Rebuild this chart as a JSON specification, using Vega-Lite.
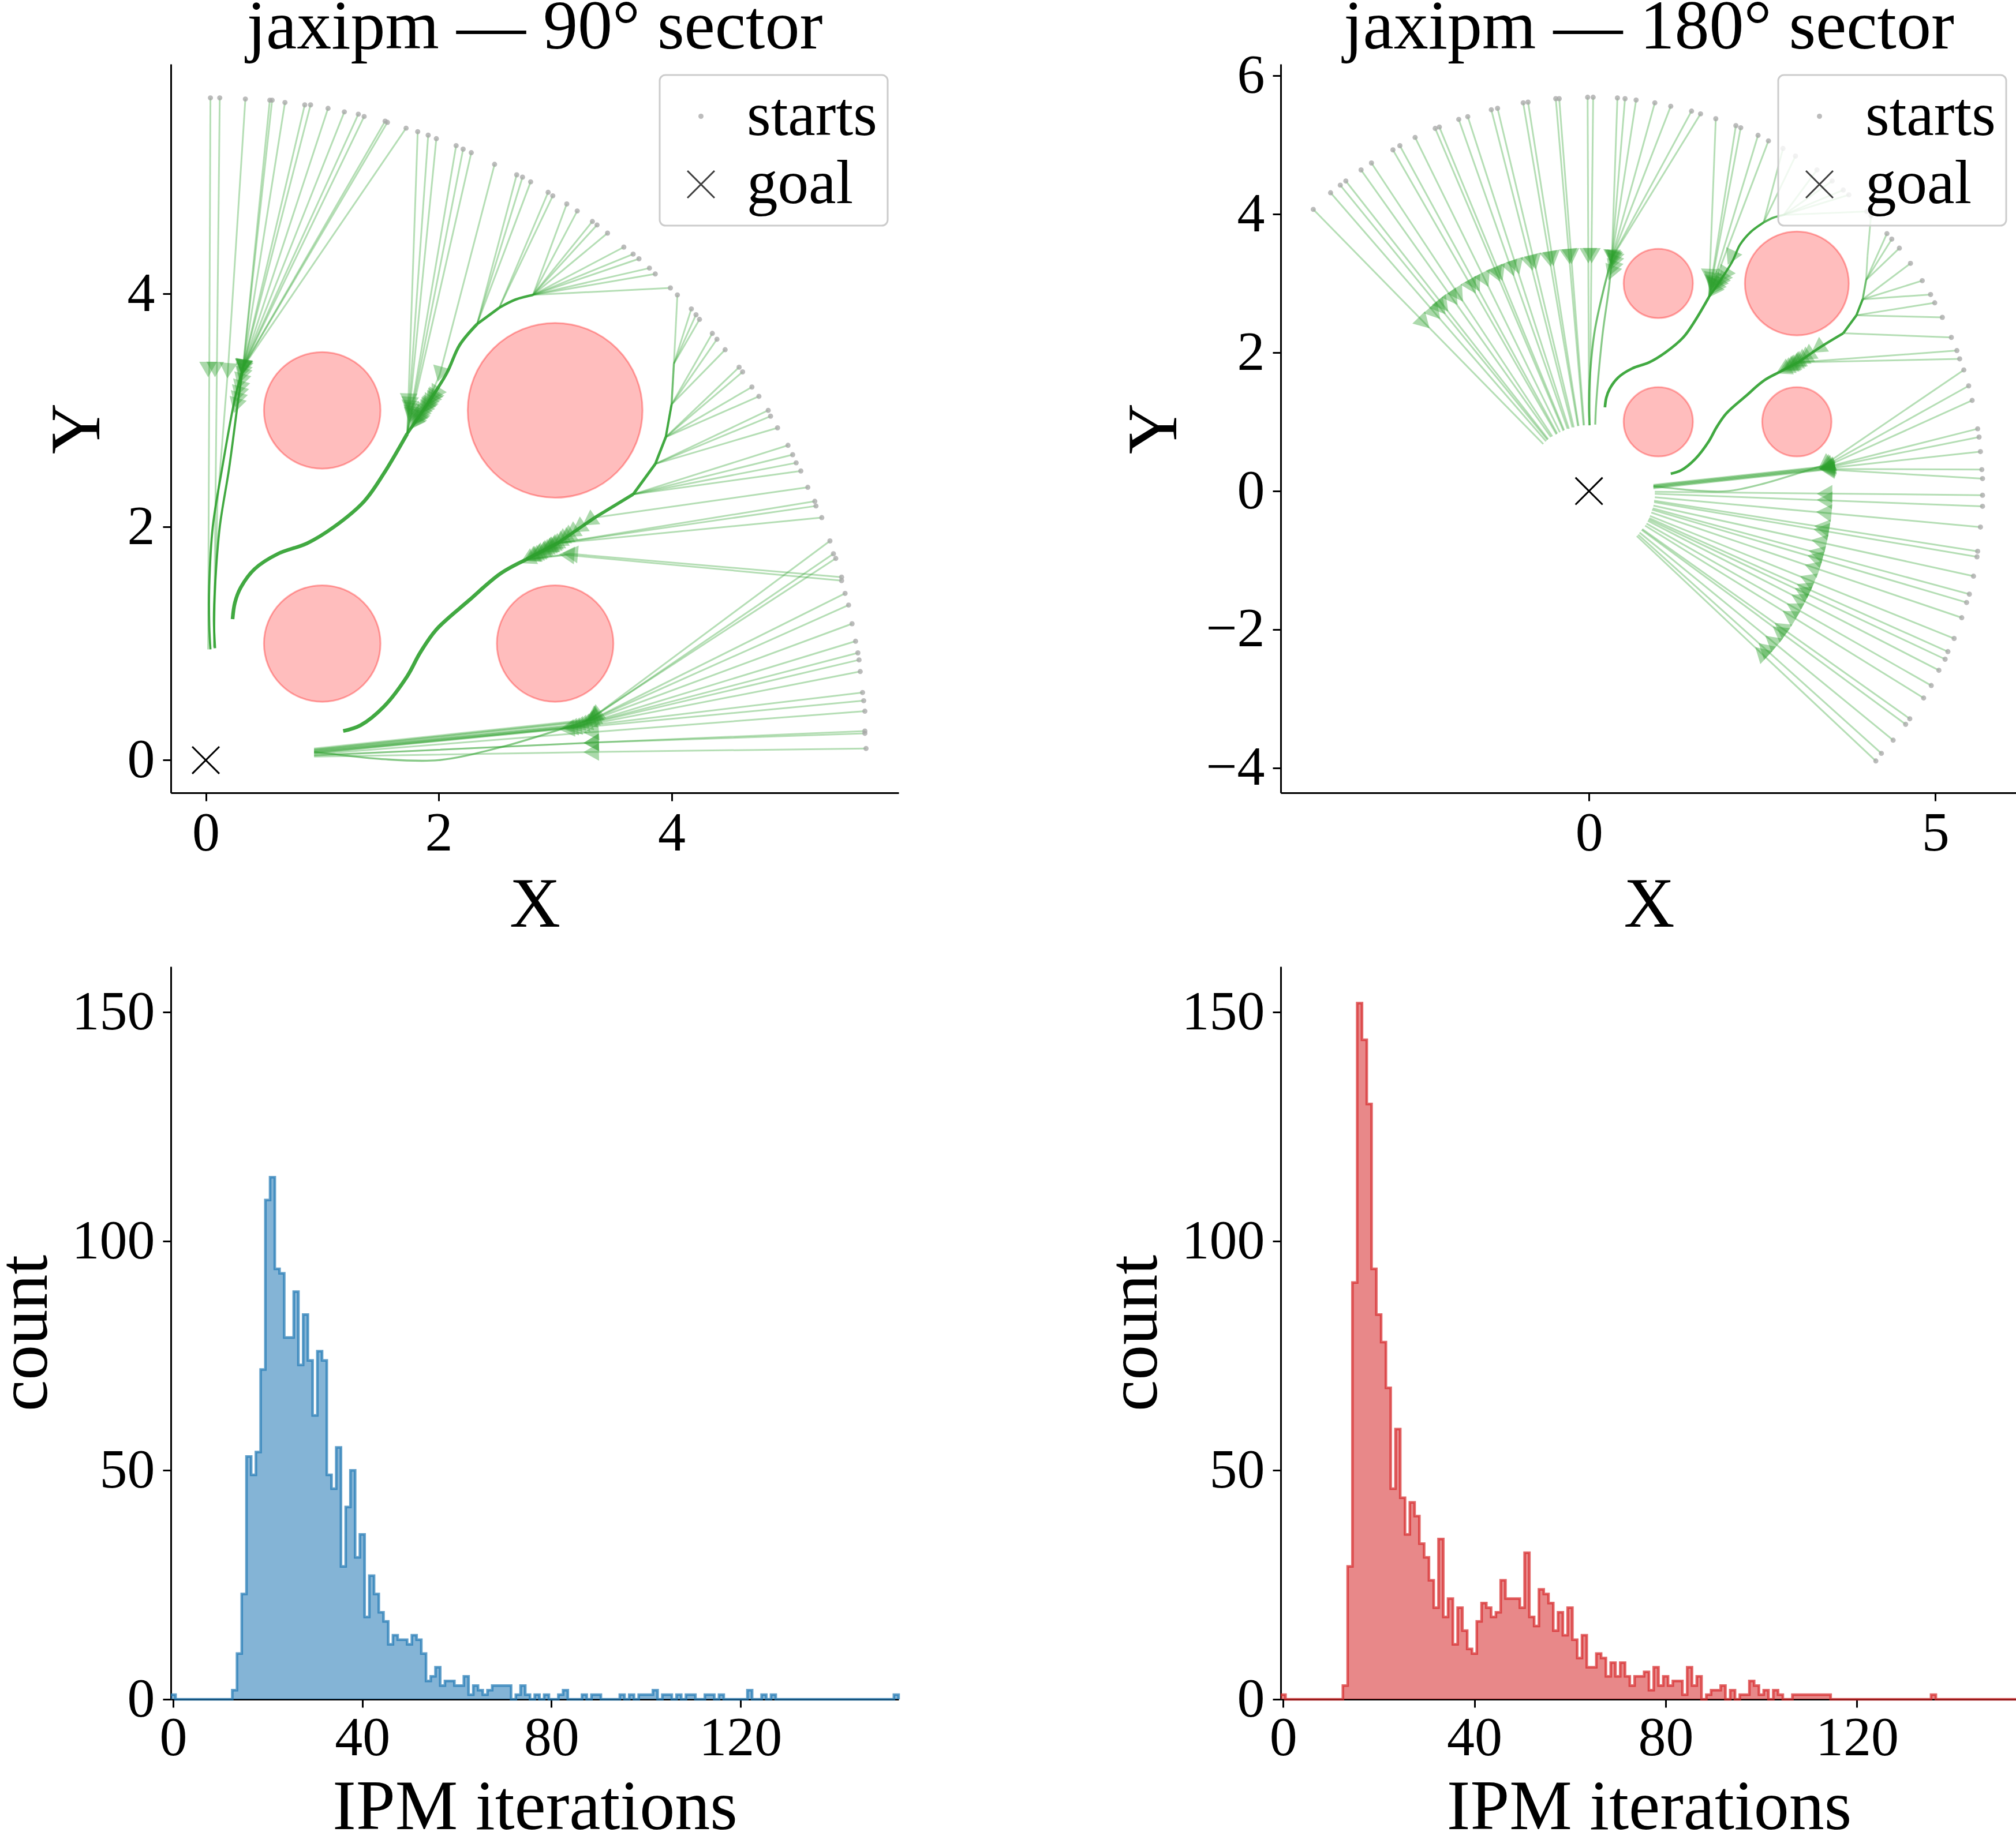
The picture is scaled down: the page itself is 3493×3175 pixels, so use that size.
{
  "$schema": "https://vega.github.io/schema/vega-lite/v6.json",
  "background": "white",
  "autosize": {"type": "pad"},
  "padding": {"left": -18, "top": -12, "right": 0, "bottom": 0},
  "config": {
    "font": "Liberation Serif",
    "view": {"stroke": null},
    "axis": {
      "grid": false, "domainColor": "#000000", "domainWidth": 3, "tickColor": "#000000", "tickWidth": 3, "tickSize": 14,
      "labelFont": "Liberation Serif", "labelFontSize": 96, "labelColor": "#000000", "labelFlush": false,
      "titleFont": "Liberation Serif", "titleFontSize": 122, "titleFontWeight": "normal", "titleColor": "#000000"
    },
    "title": {"font": "Liberation Serif", "fontSize": 120, "fontWeight": "normal", "color": "#000000", "anchor": "middle", "baseline": "alphabetic", "offset": 2},
    "legend": {
      "labelFont": "Liberation Serif", "labelFontSize": 107, "labelColor": "#000000", "labelLimit": 600, "padding": 18, "symbolOffset": 0, "labelOffset": 26,
      "rowPadding": 10, "fillColor": "rgba(255,255,255,0.8)", "strokeColor": "#cccccc", "strokeWidth": 3, "cornerRadius": 10, "symbolStrokeWidth": 3
    }
  },
  "resolve": {
    "scale": {"size": "independent", "shape": "independent", "fill": "independent", "stroke": "independent", "opacity": "independent", "strokeWidth": "independent", "angle": "independent", "radius": "independent", "theta": "independent"},
    "legend": {"shape": "independent", "size": "independent", "fill": "independent", "stroke": "independent", "opacity": "independent", "strokeWidth": "independent"}
  },
  "datasets": {
    "obstacles": [
      {"x": 1, "y": 1, "r": 0.5}, {"x": 3, "y": 1, "r": 0.5}, {"x": 1, "y": 3, "r": 0.5}, {"x": 3, "y": 3, "r": 0.75}
    ],
    "goal": [{"x": 0, "y": 0}],
    "traj90": [
      {"id":1,"step":0,"x":0.04,"y":5.68},{"id":1,"step":1,"x":0.02,"y":0.95},
      {"id":2,"step":0,"x":0.12,"y":5.68},{"id":2,"step":1,"x":0.07,"y":0.96},
      {"id":3,"step":0,"x":0.34,"y":5.67},{"id":3,"step":1,"x":0.19,"y":3.34},{"id":3,"step":2,"x":0.10,"y":2.2},{"id":3,"step":3,"x":0.07,"y":0.97},
      {"id":4,"step":0,"x":0.55,"y":5.66},{"id":4,"step":1,"x":0.32,"y":3.37},
      {"id":5,"step":0,"x":0.57,"y":5.66},{"id":5,"step":1,"x":0.32,"y":3.37},
      {"id":6,"step":0,"x":0.68,"y":5.64},{"id":6,"step":1,"x":0.32,"y":3.37},
      {"id":7,"step":0,"x":0.85,"y":5.62},{"id":7,"step":1,"x":0.32,"y":3.37},
      {"id":8,"step":0,"x":0.90,"y":5.62},{"id":8,"step":1,"x":0.32,"y":3.37},
      {"id":9,"step":0,"x":1.05,"y":5.59},{"id":9,"step":1,"x":0.32,"y":3.37},
      {"id":10,"step":0,"x":1.19,"y":5.56},{"id":10,"step":1,"x":0.32,"y":3.37},
      {"id":11,"step":0,"x":1.31,"y":5.54},{"id":11,"step":1,"x":0.32,"y":3.37},
      {"id":12,"step":0,"x":1.36,"y":5.52},{"id":12,"step":1,"x":0.32,"y":3.37},
      {"id":13,"step":0,"x":1.54,"y":5.48},{"id":13,"step":1,"x":0.32,"y":3.37},
      {"id":14,"step":0,"x":1.56,"y":5.47},{"id":14,"step":1,"x":0.32,"y":3.37},
      {"id":15,"step":0,"x":1.72,"y":5.42},{"id":15,"step":1,"x":0.32,"y":3.37},
      {"id":16,"step":0,"x":1.82,"y":5.39},{"id":16,"step":1,"x":1.73,"y":2.8},
      {"id":17,"step":0,"x":1.91,"y":5.36},{"id":17,"step":1,"x":1.73,"y":2.8},
      {"id":18,"step":0,"x":1.98,"y":5.33},{"id":18,"step":1,"x":1.73,"y":2.8},
      {"id":19,"step":0,"x":2.15,"y":5.27},{"id":19,"step":1,"x":1.73,"y":2.8},
      {"id":20,"step":0,"x":2.21,"y":5.24},{"id":20,"step":1,"x":1.73,"y":2.8},
      {"id":21,"step":0,"x":2.28,"y":5.21},{"id":21,"step":1,"x":1.73,"y":2.8},
      {"id":22,"step":0,"x":2.48,"y":5.11},{"id":22,"step":1,"x":2.01,"y":3.31},{"id":22,"step":2,"x":1.90,"y":3.05},
      {"id":23,"step":0,"x":2.67,"y":5.02},{"id":23,"step":1,"x":2.33,"y":3.74},
      {"id":24,"step":0,"x":2.72,"y":5.00},{"id":24,"step":1,"x":2.33,"y":3.74},
      {"id":25,"step":0,"x":2.79,"y":4.96},{"id":25,"step":1,"x":2.33,"y":3.74},
      {"id":26,"step":0,"x":2.94,"y":4.87},{"id":26,"step":1,"x":2.52,"y":3.88},
      {"id":27,"step":0,"x":2.98,"y":4.84},{"id":27,"step":1,"x":2.52,"y":3.88},
      {"id":28,"step":0,"x":3.10,"y":4.77},{"id":28,"step":1,"x":2.81,"y":3.99},
      {"id":29,"step":0,"x":3.19,"y":4.71},{"id":29,"step":1,"x":2.81,"y":3.99},
      {"id":30,"step":0,"x":3.32,"y":4.62},{"id":30,"step":1,"x":2.81,"y":3.99},
      {"id":31,"step":0,"x":3.36,"y":4.59},{"id":31,"step":1,"x":2.81,"y":3.99},
      {"id":32,"step":0,"x":3.45,"y":4.52},{"id":32,"step":1,"x":2.81,"y":3.99},
      {"id":33,"step":0,"x":3.59,"y":4.40},{"id":33,"step":1,"x":2.81,"y":3.99},
      {"id":34,"step":0,"x":3.67,"y":4.34},{"id":34,"step":1,"x":2.81,"y":3.99},
      {"id":35,"step":0,"x":3.72,"y":4.30},{"id":35,"step":1,"x":2.81,"y":3.99},
      {"id":36,"step":0,"x":3.81,"y":4.22},{"id":36,"step":1,"x":2.81,"y":3.99},
      {"id":37,"step":0,"x":3.86,"y":4.17},{"id":37,"step":1,"x":2.81,"y":3.99},
      {"id":38,"step":0,"x":3.99,"y":4.05},{"id":38,"step":1,"x":2.81,"y":3.99},
      {"id":39,"step":0,"x":4.05,"y":3.99},{"id":39,"step":1,"x":4.02,"y":3.40},
      {"id":40,"step":0,"x":4.17,"y":3.87},{"id":40,"step":1,"x":4.02,"y":3.40},
      {"id":41,"step":0,"x":4.21,"y":3.82},{"id":41,"step":1,"x":4.02,"y":3.40},
      {"id":42,"step":0,"x":4.24,"y":3.78},{"id":42,"step":1,"x":4.02,"y":3.40},
      {"id":43,"step":0,"x":4.35,"y":3.66},{"id":43,"step":1,"x":4.00,"y":3.05},
      {"id":44,"step":0,"x":4.39,"y":3.61},{"id":44,"step":1,"x":4.00,"y":3.05},
      {"id":45,"step":0,"x":4.46,"y":3.52},{"id":45,"step":1,"x":4.00,"y":3.05},
      {"id":46,"step":0,"x":4.58,"y":3.37},{"id":46,"step":1,"x":3.95,"y":2.77},
      {"id":47,"step":0,"x":4.61,"y":3.33},{"id":47,"step":1,"x":3.95,"y":2.77},
      {"id":48,"step":0,"x":4.69,"y":3.20},{"id":48,"step":1,"x":3.95,"y":2.77},
      {"id":49,"step":0,"x":4.75,"y":3.12},{"id":49,"step":1,"x":3.95,"y":2.77},
      {"id":50,"step":0,"x":4.83,"y":3.00},{"id":50,"step":1,"x":3.86,"y":2.54},
      {"id":51,"step":0,"x":4.85,"y":2.95},{"id":51,"step":1,"x":3.86,"y":2.54},
      {"id":52,"step":0,"x":4.91,"y":2.85},{"id":52,"step":1,"x":3.86,"y":2.54},
      {"id":53,"step":0,"x":5.00,"y":2.70},{"id":53,"step":1,"x":3.67,"y":2.28},
      {"id":54,"step":0,"x":5.04,"y":2.62},{"id":54,"step":1,"x":3.67,"y":2.28},
      {"id":55,"step":0,"x":5.07,"y":2.55},{"id":55,"step":1,"x":3.67,"y":2.28},
      {"id":56,"step":0,"x":5.11,"y":2.48},{"id":56,"step":1,"x":3.67,"y":2.28},
      {"id":57,"step":0,"x":5.17,"y":2.34},{"id":57,"step":1,"x":3.34,"y":2.08},
      {"id":58,"step":0,"x":5.23,"y":2.22},{"id":58,"step":1,"x":3.02,"y":1.86},
      {"id":59,"step":0,"x":5.24,"y":2.18},{"id":59,"step":1,"x":3.02,"y":1.86},
      {"id":60,"step":0,"x":5.29,"y":2.08},{"id":60,"step":1,"x":3.02,"y":1.86},
      {"id":61,"step":0,"x":5.36,"y":1.88},{"id":61,"step":1,"x":3.34,"y":0.38},{"id":61,"step":2,"x":3.25,"y":0.33},
      {"id":62,"step":0,"x":5.39,"y":1.77},{"id":62,"step":1,"x":3.33,"y":0.37},{"id":62,"step":2,"x":3.25,"y":0.33},
      {"id":63,"step":0,"x":5.41,"y":1.73},{"id":63,"step":1,"x":3.32,"y":0.37},{"id":63,"step":2,"x":3.25,"y":0.33},
      {"id":64,"step":0,"x":5.46,"y":1.57},{"id":64,"step":1,"x":3.13,"y":1.77},{"id":64,"step":2,"x":2.75,"y":1.72},
      {"id":65,"step":0,"x":5.46,"y":1.54},{"id":65,"step":1,"x":3.10,"y":1.76},{"id":65,"step":2,"x":2.75,"y":1.72},
      {"id":66,"step":0,"x":5.49,"y":1.43},{"id":66,"step":1,"x":3.32,"y":0.35},{"id":66,"step":2,"x":0.93,"y":0.10},
      {"id":67,"step":0,"x":5.52,"y":1.33},{"id":67,"step":1,"x":3.30,"y":0.34},{"id":67,"step":2,"x":0.93,"y":0.09},
      {"id":68,"step":0,"x":5.55,"y":1.17},{"id":68,"step":1,"x":3.28,"y":0.33},{"id":68,"step":2,"x":0.93,"y":0.09},
      {"id":69,"step":0,"x":5.58,"y":1.02},{"id":69,"step":1,"x":3.25,"y":0.31},{"id":69,"step":2,"x":0.93,"y":0.08},
      {"id":70,"step":0,"x":5.60,"y":0.92},{"id":70,"step":1,"x":3.22,"y":0.30},{"id":70,"step":2,"x":0.93,"y":0.08},
      {"id":71,"step":0,"x":5.61,"y":0.86},{"id":71,"step":1,"x":3.19,"y":0.29},{"id":71,"step":2,"x":0.93,"y":0.07},
      {"id":72,"step":0,"x":5.62,"y":0.76},{"id":72,"step":1,"x":3.16,"y":0.28},{"id":72,"step":2,"x":0.93,"y":0.07},
      {"id":73,"step":0,"x":5.64,"y":0.58},{"id":73,"step":1,"x":3.13,"y":0.28},{"id":73,"step":2,"x":0.93,"y":0.06},
      {"id":74,"step":0,"x":5.65,"y":0.51},{"id":74,"step":1,"x":3.10,"y":0.27},{"id":74,"step":2,"x":0.93,"y":0.06},
      {"id":75,"step":0,"x":5.66,"y":0.42},{"id":75,"step":1,"x":3.31,"y":0.24},{"id":75,"step":2,"x":0.93,"y":0.05},
      {"id":76,"step":0,"x":5.66,"y":0.25},{"id":76,"step":1,"x":3.31,"y":0.15},{"id":76,"step":2,"x":0.93,"y":0.04},
      {"id":77,"step":0,"x":5.66,"y":0.23},{"id":77,"step":1,"x":3.31,"y":0.15},{"id":77,"step":2,"x":0.93,"y":0.04},
      {"id":78,"step":0,"x":5.67,"y":0.10},{"id":78,"step":1,"x":3.31,"y":0.07},{"id":78,"step":2,"x":0.93,"y":0.03}
    ],
    "streams90": [
      {"id":"A1","step":0,"x":0.32,"y":3.37,"n":6},{"id":"A1","step":1,"x":0.25,"y":3.10,"n":6},{"id":"A1","step":2,"x":0.14,"y":2.50,"n":6},{"id":"A1","step":3,"x":0.06,"y":2.00,"n":6},{"id":"A1","step":4,"x":0.03,"y":1.50,"n":6},{"id":"A1","step":5,"x":0.03,"y":1.15,"n":6},{"id":"A1","step":6,"x":0.04,"y":0.95,"n":6},
      {"id":"A2","step":0,"x":0.32,"y":3.37,"n":6},{"id":"A2","step":1,"x":0.28,"y":3.10,"n":6},{"id":"A2","step":2,"x":0.20,"y":2.50,"n":6},{"id":"A2","step":3,"x":0.12,"y":2.00,"n":6},{"id":"A2","step":4,"x":0.08,"y":1.50,"n":6},{"id":"A2","step":5,"x":0.07,"y":1.20,"n":6},{"id":"A2","step":6,"x":0.08,"y":0.96,"n":6},
      {"id":"Bp1","step":0,"x":2.81,"y":3.99,"n":11},{"id":"Bp1","step":1,"x":2.66,"y":3.95,"n":11},{"id":"Bp1","step":2,"x":2.52,"y":3.88,"n":11},
      {"id":"Bp2","step":0,"x":2.52,"y":3.88,"n":13},{"id":"Bp2","step":1,"x":2.33,"y":3.74,"n":13},
      {"id":"Bp3","step":0,"x":2.33,"y":3.74,"n":16},{"id":"Bp3","step":1,"x":2.18,"y":3.56,"n":16},{"id":"Bp3","step":2,"x":2.07,"y":3.32,"n":16},{"id":"Bp3","step":3,"x":1.90,"y":3.05,"n":16},
      {"id":"Bp4","step":0,"x":1.90,"y":3.05,"n":17},{"id":"Bp4","step":1,"x":1.73,"y":2.80,"n":17},
      {"id":"B","step":0,"x":1.73,"y":2.80,"n":23},{"id":"B","step":1,"x":1.53,"y":2.46,"n":23},{"id":"B","step":2,"x":1.36,"y":2.22,"n":23},{"id":"B","step":3,"x":1.10,"y":2.00,"n":23},{"id":"B","step":4,"x":0.87,"y":1.86,"n":23},{"id":"B","step":5,"x":0.62,"y":1.77,"n":23},{"id":"B","step":6,"x":0.42,"y":1.64,"n":23},{"id":"B","step":7,"x":0.30,"y":1.48,"n":23},{"id":"B","step":8,"x":0.25,"y":1.35,"n":23},{"id":"B","step":9,"x":0.23,"y":1.21,"n":23},
      {"id":"C2","step":0,"x":4.02,"y":3.40,"n":4},{"id":"C2","step":1,"x":4.00,"y":3.05,"n":4},
      {"id":"C3","step":0,"x":4.00,"y":3.05,"n":7},{"id":"C3","step":1,"x":3.95,"y":2.77,"n":7},
      {"id":"C4","step":0,"x":3.95,"y":2.77,"n":11},{"id":"C4","step":1,"x":3.86,"y":2.54,"n":11},
      {"id":"C5","step":0,"x":3.86,"y":2.54,"n":14},{"id":"C5","step":1,"x":3.67,"y":2.28,"n":14},
      {"id":"C6","step":0,"x":3.67,"y":2.28,"n":18},{"id":"C6","step":1,"x":3.34,"y":2.08,"n":18},
      {"id":"C7","step":0,"x":3.34,"y":2.08,"n":19},{"id":"C7","step":1,"x":3.02,"y":1.86,"n":19},
      {"id":"C8","step":0,"x":3.02,"y":1.86,"n":22},{"id":"C8","step":1,"x":2.75,"y":1.72,"n":22},
      {"id":"C9","step":0,"x":2.75,"y":1.72,"n":24},{"id":"C9","step":1,"x":2.53,"y":1.60,"n":24},{"id":"C9","step":2,"x":2.26,"y":1.37,"n":24},{"id":"C9","step":3,"x":1.98,"y":1.12,"n":24},{"id":"C9","step":4,"x":1.84,"y":0.92,"n":24},{"id":"C9","step":5,"x":1.73,"y":0.72,"n":24},{"id":"C9","step":6,"x":1.53,"y":0.46,"n":24},{"id":"C9","step":7,"x":1.33,"y":0.30,"n":24},{"id":"C9","step":8,"x":1.18,"y":0.25,"n":24},
      {"id":"D","step":0,"x":3.25,"y":0.33,"n":3},{"id":"D","step":1,"x":3.00,"y":0.25,"n":3},{"id":"D","step":2,"x":2.53,"y":0.11,"n":3},{"id":"D","step":3,"x":2.00,"y":0.00,"n":3},{"id":"D","step":4,"x":1.50,"y":0.01,"n":3},{"id":"D","step":5,"x":1.20,"y":0.04,"n":3},{"id":"D","step":6,"x":0.93,"y":0.07,"n":3}
    ],
    "arrows90": [
      {"x":0.02,"y":3.35,"heading":180},{"x":0.08,"y":3.35,"heading":181},{"x":0.19,"y":3.34,"heading":184},
      {"x":0.32,"y":3.37,"heading":186},{"x":0.32,"y":3.37,"heading":187},{"x":0.32,"y":3.37,"heading":189},{"x":0.32,"y":3.37,"heading":193},{"x":0.32,"y":3.36,"heading":194},{"x":0.31,"y":3.33,"heading":198},
      {"x":0.31,"y":3.30,"heading":196},{"x":0.30,"y":3.25,"heading":196},{"x":0.29,"y":3.19,"heading":196},{"x":0.28,"y":3.14,"heading":196},{"x":0.27,"y":3.09,"heading":196},{"x":0.26,"y":3.04,"heading":196},
      {"x":1.74,"y":3.08,"heading":182},{"x":1.75,"y":3.05,"heading":184},{"x":1.75,"y":3.02,"heading":186},{"x":1.76,"y":3.00,"heading":190},{"x":1.76,"y":2.97,"heading":191},{"x":1.76,"y":2.95,"heading":193},
      {"x":2.01,"y":3.31,"heading":195},{"x":1.97,"y":3.14,"heading":212},{"x":1.95,"y":3.11,"heading":212},{"x":1.93,"y":3.08,"heading":213},{"x":1.91,"y":3.06,"heading":213},{"x":1.90,"y":3.04,"heading":213},{"x":1.88,"y":3.02,"heading":214},{"x":1.87,"y":3.00,"heading":214},{"x":1.85,"y":2.98,"heading":214},{"x":1.84,"y":2.96,"heading":214},{"x":1.83,"y":2.94,"heading":214},{"x":1.81,"y":2.92,"heading":214},{"x":1.80,"y":2.90,"heading":214},{"x":1.79,"y":2.89,"heading":214},{"x":1.94,"y":3.10,"heading":212},{"x":1.89,"y":3.03,"heading":213},{"x":1.82,"y":2.93,"heading":214},
      {"x":3.29,"y":2.05,"heading":236},{"x":3.20,"y":1.99,"heading":236},{"x":3.10,"y":1.92,"heading":237},{"x":3.05,"y":1.89,"heading":238},{"x":3.00,"y":1.85,"heading":240},{"x":2.97,"y":1.83,"heading":241},{"x":2.94,"y":1.82,"heading":242},{"x":2.91,"y":1.80,"heading":242},{"x":2.88,"y":1.78,"heading":242},{"x":2.85,"y":1.77,"heading":243},{"x":2.82,"y":1.75,"heading":243},{"x":2.79,"y":1.74,"heading":243},{"x":2.76,"y":1.72,"heading":243},{"x":3.08,"y":1.90,"heading":238},{"x":3.03,"y":1.87,"heading":239},{"x":2.98,"y":1.84,"heading":240},{"x":2.93,"y":1.81,"heading":242},{"x":2.89,"y":1.79,"heading":242},{"x":2.84,"y":1.76,"heading":243},{"x":2.80,"y":1.74,"heading":243},{"x":3.14,"y":1.95,"heading":237},{"x":2.95,"y":1.82,"heading":241},{"x":3.13,"y":1.77,"heading":275},{"x":3.10,"y":1.76,"heading":274},
      {"x":3.34,"y":0.38,"heading":233},{"x":3.33,"y":0.37,"heading":236},{"x":3.32,"y":0.37,"heading":237},{"x":3.32,"y":0.35,"heading":244},{"x":3.30,"y":0.34,"heading":246},{"x":3.28,"y":0.33,"heading":250},{"x":3.25,"y":0.31,"heading":253},{"x":3.22,"y":0.30,"heading":255},{"x":3.19,"y":0.29,"heading":257},{"x":3.16,"y":0.28,"heading":259},{"x":3.13,"y":0.28,"heading":263},{"x":3.10,"y":0.27,"heading":264},{"x":3.31,"y":0.24,"heading":266},{"x":3.31,"y":0.15,"heading":268},{"x":3.31,"y":0.15,"heading":268},{"x":3.31,"y":0.07,"heading":269}
    ],
    "traj180": [
      {"id":1,"step":0,"x":-3.98,"y":4.07},{"id":1,"step":1,"x":-0.66,"y":0.68},
      {"id":2,"step":0,"x":-3.73,"y":4.31},{"id":2,"step":1,"x":-0.62,"y":0.72},
      {"id":3,"step":0,"x":-3.59,"y":4.42},{"id":3,"step":1,"x":-0.60,"y":0.74},
      {"id":4,"step":0,"x":-3.51,"y":4.48},{"id":4,"step":1,"x":-0.59,"y":0.75},
      {"id":5,"step":0,"x":-3.29,"y":4.64},{"id":5,"step":1,"x":-0.55,"y":0.78},
      {"id":6,"step":0,"x":-3.14,"y":4.74},{"id":6,"step":1,"x":-0.53,"y":0.79},
      {"id":7,"step":0,"x":-2.83,"y":4.93},{"id":7,"step":1,"x":-0.47,"y":0.82},
      {"id":8,"step":0,"x":-2.73,"y":4.99},{"id":8,"step":1,"x":-0.46,"y":0.83},
      {"id":9,"step":0,"x":-2.51,"y":5.11},{"id":9,"step":1,"x":-0.42,"y":0.85},
      {"id":10,"step":0,"x":-2.22,"y":5.24},{"id":10,"step":1,"x":-0.37,"y":0.87},
      {"id":11,"step":0,"x":-2.16,"y":5.26},{"id":11,"step":1,"x":-0.36,"y":0.88},
      {"id":12,"step":0,"x":-1.88,"y":5.37},{"id":12,"step":1,"x":-0.31,"y":0.90},
      {"id":13,"step":0,"x":-1.75,"y":5.41},{"id":13,"step":1,"x":-0.29,"y":0.90},
      {"id":14,"step":0,"x":-1.41,"y":5.51},{"id":14,"step":1,"x":-0.24,"y":0.92},
      {"id":15,"step":0,"x":-1.32,"y":5.53},{"id":15,"step":1,"x":-0.22,"y":0.92},
      {"id":16,"step":0,"x":-0.95,"y":5.61},{"id":16,"step":1,"x":-0.16,"y":0.94},
      {"id":17,"step":0,"x":-0.88,"y":5.62},{"id":17,"step":1,"x":-0.15,"y":0.94},
      {"id":18,"step":0,"x":-0.48,"y":5.67},{"id":18,"step":1,"x":-0.08,"y":0.95},
      {"id":19,"step":0,"x":-0.43,"y":5.67},{"id":19,"step":1,"x":-0.07,"y":0.95},
      {"id":20,"step":0,"x":-0.02,"y":5.69},{"id":20,"step":1,"x":0.00,"y":0.95},
      {"id":21,"step":0,"x":0.06,"y":5.69},{"id":21,"step":1,"x":0.01,"y":0.95},
      {"id":22,"step":0,"x":0.41,"y":5.68},{"id":22,"step":1,"x":0.33,"y":3.37},
      {"id":23,"step":0,"x":0.52,"y":5.67},{"id":23,"step":1,"x":0.33,"y":3.37},
      {"id":24,"step":0,"x":0.68,"y":5.65},{"id":24,"step":1,"x":0.33,"y":3.37},
      {"id":25,"step":0,"x":0.95,"y":5.61},{"id":25,"step":1,"x":0.33,"y":3.37},
      {"id":26,"step":0,"x":1.18,"y":5.56},{"id":26,"step":1,"x":0.33,"y":3.37},
      {"id":27,"step":0,"x":1.48,"y":5.49},{"id":27,"step":1,"x":0.33,"y":3.37},
      {"id":28,"step":0,"x":1.61,"y":5.45},{"id":28,"step":1,"x":0.33,"y":3.37},
      {"id":29,"step":0,"x":1.83,"y":5.38},{"id":29,"step":1,"x":1.73,"y":2.80},
      {"id":30,"step":0,"x":2.12,"y":5.28},{"id":30,"step":1,"x":1.73,"y":2.80},
      {"id":31,"step":0,"x":2.19,"y":5.25},{"id":31,"step":1,"x":1.73,"y":2.80},
      {"id":32,"step":0,"x":2.44,"y":5.14},{"id":32,"step":1,"x":1.73,"y":2.80},
      {"id":33,"step":0,"x":2.59,"y":5.06},{"id":33,"step":1,"x":1.73,"y":2.80},
      {"id":34,"step":0,"x":2.80,"y":4.95},{"id":34,"step":1,"x":2.52,"y":3.88},
      {"id":35,"step":0,"x":2.98,"y":4.84},{"id":35,"step":1,"x":2.52,"y":3.88},
      {"id":36,"step":0,"x":3.29,"y":4.64},{"id":36,"step":1,"x":2.81,"y":3.99},
      {"id":37,"step":0,"x":3.51,"y":4.48},{"id":37,"step":1,"x":2.81,"y":3.99},
      {"id":38,"step":0,"x":3.67,"y":4.35},{"id":38,"step":1,"x":2.81,"y":3.99},
      {"id":39,"step":0,"x":3.75,"y":4.28},{"id":39,"step":1,"x":2.81,"y":3.99},
      {"id":40,"step":0,"x":4.01,"y":4.04},{"id":40,"step":1,"x":2.81,"y":3.99},
      {"id":41,"step":0,"x":4.07,"y":3.98},{"id":41,"step":1,"x":4.02,"y":3.40},
      {"id":42,"step":0,"x":4.30,"y":3.72},{"id":42,"step":1,"x":4.00,"y":3.05},
      {"id":43,"step":0,"x":4.37,"y":3.64},{"id":43,"step":1,"x":4.00,"y":3.05},
      {"id":44,"step":0,"x":4.48,"y":3.51},{"id":44,"step":1,"x":4.00,"y":3.05},
      {"id":45,"step":0,"x":4.64,"y":3.29},{"id":45,"step":1,"x":3.95,"y":2.77},
      {"id":46,"step":0,"x":4.81,"y":3.04},{"id":46,"step":1,"x":3.95,"y":2.77},
      {"id":47,"step":0,"x":4.93,"y":2.84},{"id":47,"step":1,"x":3.95,"y":2.77},
      {"id":48,"step":0,"x":4.99,"y":2.72},{"id":48,"step":1,"x":3.86,"y":2.54},
      {"id":49,"step":0,"x":5.10,"y":2.51},{"id":49,"step":1,"x":3.86,"y":2.54},
      {"id":50,"step":0,"x":5.23,"y":2.22},{"id":50,"step":1,"x":3.67,"y":2.28},
      {"id":51,"step":0,"x":5.31,"y":2.03},{"id":51,"step":1,"x":3.02,"y":1.86},
      {"id":52,"step":0,"x":5.35,"y":1.91},{"id":52,"step":1,"x":3.02,"y":1.86},
      {"id":53,"step":0,"x":5.41,"y":1.75},{"id":53,"step":1,"x":3.40,"y":0.38},{"id":53,"step":2,"x":3.25,"y":0.33},
      {"id":54,"step":0,"x":5.48,"y":1.52},{"id":54,"step":1,"x":3.42,"y":0.37},{"id":54,"step":2,"x":3.25,"y":0.33},
      {"id":55,"step":0,"x":5.53,"y":1.31},{"id":55,"step":1,"x":3.43,"y":0.36},{"id":55,"step":2,"x":0.93,"y":0.09},
      {"id":56,"step":0,"x":5.61,"y":0.90},{"id":56,"step":1,"x":3.44,"y":0.35},{"id":56,"step":2,"x":0.93,"y":0.08},
      {"id":57,"step":0,"x":5.63,"y":0.78},{"id":57,"step":1,"x":3.44,"y":0.34},{"id":57,"step":2,"x":0.93,"y":0.07},
      {"id":58,"step":0,"x":5.65,"y":0.57},{"id":58,"step":1,"x":3.44,"y":0.33},{"id":58,"step":2,"x":0.93,"y":0.06},
      {"id":59,"step":0,"x":5.67,"y":0.31},{"id":59,"step":1,"x":3.44,"y":0.32},{"id":59,"step":2,"x":0.93,"y":0.05},
      {"id":60,"step":0,"x":5.68,"y":0.18},{"id":60,"step":1,"x":3.44,"y":0.31},{"id":60,"step":2,"x":0.93,"y":0.04},
      {"id":61,"step":0,"x":5.68,"y":-0.06},{"id":61,"step":1,"x":0.95,"y":-0.01},
      {"id":62,"step":0,"x":5.68,"y":-0.22},{"id":62,"step":1,"x":0.95,"y":-0.04},
      {"id":63,"step":0,"x":5.65,"y":-0.52},{"id":63,"step":1,"x":0.95,"y":-0.09},
      {"id":64,"step":0,"x":5.61,"y":-0.87},{"id":64,"step":1,"x":0.94,"y":-0.14},
      {"id":65,"step":0,"x":5.60,"y":-0.95},{"id":65,"step":1,"x":0.94,"y":-0.16},
      {"id":66,"step":0,"x":5.55,"y":-1.23},{"id":66,"step":1,"x":0.93,"y":-0.21},
      {"id":67,"step":0,"x":5.49,"y":-1.49},{"id":67,"step":1,"x":0.92,"y":-0.25},
      {"id":68,"step":0,"x":5.45,"y":-1.61},{"id":68,"step":1,"x":0.91,"y":-0.27},
      {"id":69,"step":0,"x":5.38,"y":-1.83},{"id":69,"step":1,"x":0.90,"y":-0.31},
      {"id":70,"step":0,"x":5.27,"y":-2.13},{"id":70,"step":1,"x":0.88,"y":-0.36},
      {"id":71,"step":0,"x":5.18,"y":-2.32},{"id":71,"step":1,"x":0.87,"y":-0.39},
      {"id":72,"step":0,"x":5.14,"y":-2.43},{"id":72,"step":1,"x":0.86,"y":-0.41},
      {"id":73,"step":0,"x":5.05,"y":-2.59},{"id":73,"step":1,"x":0.85,"y":-0.43},
      {"id":74,"step":0,"x":4.94,"y":-2.81},{"id":74,"step":1,"x":0.83,"y":-0.47},
      {"id":75,"step":0,"x":4.83,"y":-2.99},{"id":75,"step":1,"x":0.81,"y":-0.50},
      {"id":76,"step":0,"x":4.63,"y":-3.29},{"id":76,"step":1,"x":0.77,"y":-0.55},
      {"id":77,"step":0,"x":4.57,"y":-3.37},{"id":77,"step":1,"x":0.76,"y":-0.56},
      {"id":78,"step":0,"x":4.39,"y":-3.60},{"id":78,"step":1,"x":0.73,"y":-0.60},
      {"id":79,"step":0,"x":4.22,"y":-3.79},{"id":79,"step":1,"x":0.71,"y":-0.63},
      {"id":80,"step":0,"x":4.14,"y":-3.90},{"id":80,"step":1,"x":0.69,"y":-0.65}
    ],
    "streams180": [
      {"id":"A1","step":0,"x":0.33,"y":3.37,"n":4},{"id":"A1","step":1,"x":0.22,"y":2.95,"n":4},{"id":"A1","step":2,"x":0.08,"y":2.30,"n":4},{"id":"A1","step":3,"x":0.01,"y":1.60,"n":4},{"id":"A1","step":4,"x":0.00,"y":1.20,"n":4},{"id":"A1","step":5,"x":0.01,"y":0.95,"n":4},
      {"id":"A2","step":0,"x":0.33,"y":3.37,"n":3},{"id":"A2","step":1,"x":0.29,"y":2.95,"n":3},{"id":"A2","step":2,"x":0.20,"y":2.30,"n":3},{"id":"A2","step":3,"x":0.13,"y":1.60,"n":3},{"id":"A2","step":4,"x":0.10,"y":1.20,"n":3},{"id":"A2","step":5,"x":0.09,"y":0.96,"n":3},
      {"id":"Bp1","step":0,"x":2.81,"y":3.99,"n":5},{"id":"Bp1","step":1,"x":2.66,"y":3.95,"n":5},{"id":"Bp1","step":2,"x":2.52,"y":3.88,"n":5},
      {"id":"Bp2","step":0,"x":2.52,"y":3.88,"n":7},{"id":"Bp2","step":1,"x":2.33,"y":3.74,"n":7},{"id":"Bp2","step":2,"x":2.18,"y":3.56,"n":7},{"id":"Bp2","step":3,"x":2.07,"y":3.32,"n":7},{"id":"Bp2","step":4,"x":1.90,"y":3.05,"n":7},{"id":"Bp2","step":5,"x":1.73,"y":2.80,"n":7},
      {"id":"B","step":0,"x":1.73,"y":2.80,"n":12},{"id":"B","step":1,"x":1.53,"y":2.46,"n":12},{"id":"B","step":2,"x":1.36,"y":2.22,"n":12},{"id":"B","step":3,"x":1.10,"y":2.00,"n":12},{"id":"B","step":4,"x":0.87,"y":1.86,"n":12},{"id":"B","step":5,"x":0.62,"y":1.77,"n":12},{"id":"B","step":6,"x":0.42,"y":1.64,"n":12},{"id":"B","step":7,"x":0.30,"y":1.48,"n":12},{"id":"B","step":8,"x":0.25,"y":1.35,"n":12},{"id":"B","step":9,"x":0.23,"y":1.21,"n":12},
      {"id":"C2","step":0,"x":4.02,"y":3.40,"n":1},{"id":"C2","step":1,"x":4.00,"y":3.05,"n":1},
      {"id":"C3","step":0,"x":4.00,"y":3.05,"n":4},{"id":"C3","step":1,"x":3.95,"y":2.77,"n":4},
      {"id":"C4","step":0,"x":3.95,"y":2.77,"n":7},{"id":"C4","step":1,"x":3.86,"y":2.54,"n":7},
      {"id":"C5","step":0,"x":3.86,"y":2.54,"n":9},{"id":"C5","step":1,"x":3.67,"y":2.28,"n":9},
      {"id":"C6","step":0,"x":3.67,"y":2.28,"n":10},{"id":"C6","step":1,"x":3.34,"y":2.08,"n":10},{"id":"C6","step":2,"x":3.02,"y":1.86,"n":10},
      {"id":"C8","step":0,"x":3.02,"y":1.86,"n":12},{"id":"C8","step":1,"x":2.75,"y":1.72,"n":12},{"id":"C8","step":2,"x":2.53,"y":1.60,"n":12},{"id":"C8","step":3,"x":2.26,"y":1.37,"n":12},{"id":"C8","step":4,"x":1.98,"y":1.12,"n":12},{"id":"C8","step":5,"x":1.84,"y":0.92,"n":12},{"id":"C8","step":6,"x":1.73,"y":0.72,"n":12},{"id":"C8","step":7,"x":1.53,"y":0.46,"n":12},{"id":"C8","step":8,"x":1.33,"y":0.30,"n":12},{"id":"C8","step":9,"x":1.18,"y":0.25,"n":12},
      {"id":"D","step":0,"x":3.25,"y":0.33,"n":2},{"id":"D","step":1,"x":3.00,"y":0.25,"n":2},{"id":"D","step":2,"x":2.53,"y":0.11,"n":2},{"id":"D","step":3,"x":2.00,"y":0.00,"n":2},{"id":"D","step":4,"x":1.50,"y":0.01,"n":2},{"id":"D","step":5,"x":1.20,"y":0.04,"n":2},{"id":"D","step":6,"x":0.93,"y":0.07,"n":2}
    ],
    "arrows180": [
      {"x":-2.38,"y":2.43,"heading":135.6},{"x":-2.22,"y":2.57,"heading":139.1},{"x":-2.14,"y":2.64,"heading":140.9},{"x":-2.10,"y":2.68,"heading":142.0},{"x":-1.96,"y":2.78,"heading":144.7},{"x":-1.88,"y":2.83,"heading":146.4},{"x":-1.69,"y":2.95,"heading":150.2},{"x":-1.63,"y":2.98,"heading":151.3},{"x":-1.50,"y":3.05,"heading":153.8},{"x":-1.33,"y":3.13,"heading":157.0},{"x":-1.29,"y":3.14,"heading":157.7},{"x":-1.12,"y":3.21,"heading":160.7},{"x":-1.04,"y":3.24,"heading":162.1},{"x":-0.84,"y":3.29,"heading":165.6},{"x":-0.79,"y":3.31,"heading":166.6},{"x":-0.57,"y":3.35,"heading":170.4},{"x":-0.53,"y":3.36,"heading":171.1},{"x":-0.29,"y":3.39,"heading":175.1},{"x":-0.26,"y":3.39,"heading":175.7},{"x":-0.01,"y":3.40,"heading":179.8},{"x":0.04,"y":3.40,"heading":180.6},
      {"x":0.33,"y":3.38,"heading":182},{"x":0.34,"y":3.37,"heading":185},{"x":0.35,"y":3.36,"heading":188},{"x":0.36,"y":3.35,"heading":195},{"x":0.35,"y":3.30,"heading":200},{"x":0.34,"y":3.22,"heading":200},{"x":0.32,"y":3.15,"heading":200},
      {"x":1.74,"y":3.10,"heading":182},{"x":1.77,"y":3.05,"heading":189},{"x":1.77,"y":3.00,"heading":191},{"x":1.78,"y":2.97,"heading":197},{"x":1.79,"y":2.95,"heading":201},
      {"x":2.05,"y":3.37,"heading":205},{"x":1.95,"y":3.12,"heading":212},{"x":1.91,"y":3.06,"heading":213},{"x":1.88,"y":3.02,"heading":214},{"x":1.85,"y":2.98,"heading":214},{"x":1.82,"y":2.93,"heading":214},{"x":1.79,"y":2.89,"heading":214},
      {"x":3.30,"y":2.06,"heading":236},{"x":3.15,"y":1.96,"heading":237},{"x":3.05,"y":1.89,"heading":238},{"x":3.00,"y":1.86,"heading":240},{"x":2.96,"y":1.83,"heading":241},{"x":2.92,"y":1.81,"heading":242},{"x":2.88,"y":1.79,"heading":242},{"x":2.84,"y":1.77,"heading":243},{"x":2.80,"y":1.75,"heading":243},{"x":3.10,"y":1.92,"heading":237},{"x":2.98,"y":1.85,"heading":240},{"x":2.90,"y":1.80,"heading":242},
      {"x":3.40,"y":0.38,"heading":236},{"x":3.42,"y":0.37,"heading":241},{"x":3.43,"y":0.36,"heading":246},{"x":3.44,"y":0.35,"heading":256},{"x":3.44,"y":0.34,"heading":259},{"x":3.44,"y":0.33,"heading":264},{"x":3.44,"y":0.32,"heading":270},{"x":3.44,"y":0.31,"heading":273},
      {"x":3.40,"y":-0.04,"heading":270.6},{"x":3.40,"y":-0.13,"heading":272.2},{"x":3.39,"y":-0.31,"heading":275.3},{"x":3.36,"y":-0.52,"heading":278.8},{"x":3.35,"y":-0.57,"heading":279.6},{"x":3.32,"y":-0.73,"heading":282.5},{"x":3.28,"y":-0.89,"heading":285.2},{"x":3.26,"y":-0.96,"heading":286.5},{"x":3.22,"y":-1.10,"heading":288.8},{"x":3.15,"y":-1.27,"heading":292.0},{"x":3.10,"y":-1.39,"heading":294.1},{"x":3.07,"y":-1.45,"heading":295.3},{"x":3.02,"y":-1.55,"heading":297.2},{"x":2.95,"y":-1.68,"heading":299.7},{"x":2.89,"y":-1.79,"heading":301.8},{"x":2.77,"y":-1.97,"heading":305.4},{"x":2.74,"y":-2.02,"heading":306.4},{"x":2.63,"y":-2.16,"heading":309.4},{"x":2.53,"y":-2.27,"heading":311.9},{"x":2.48,"y":-2.33,"heading":313.3}
    ],
    "hist90": [
      {"bin_start":-0.5,"count":1},{"bin_start":0.5,"count":0},{"bin_start":1.5,"count":0},{"bin_start":2.5,"count":0},{"bin_start":3.5,"count":0},{"bin_start":4.5,"count":0},{"bin_start":5.5,"count":0},{"bin_start":6.5,"count":0},{"bin_start":7.5,"count":0},{"bin_start":8.5,"count":0},
      {"bin_start":9.5,"count":0},{"bin_start":10.5,"count":0},{"bin_start":11.5,"count":0},{"bin_start":12.5,"count":2},{"bin_start":13.5,"count":10},{"bin_start":14.5,"count":23},{"bin_start":15.5,"count":53},{"bin_start":16.5,"count":49},{"bin_start":17.5,"count":54},{"bin_start":18.5,"count":72},
      {"bin_start":19.5,"count":109},{"bin_start":20.5,"count":114},{"bin_start":21.5,"count":94},{"bin_start":22.5,"count":93},{"bin_start":23.5,"count":79},{"bin_start":24.5,"count":79},{"bin_start":25.5,"count":89},{"bin_start":26.5,"count":73},{"bin_start":27.5,"count":84},{"bin_start":28.5,"count":74},
      {"bin_start":29.5,"count":62},{"bin_start":30.5,"count":76},{"bin_start":31.5,"count":74},{"bin_start":32.5,"count":49},{"bin_start":33.5,"count":46},{"bin_start":34.5,"count":55},{"bin_start":35.5,"count":29},{"bin_start":36.5,"count":42},{"bin_start":37.5,"count":50},{"bin_start":38.5,"count":31},
      {"bin_start":39.5,"count":36},{"bin_start":40.5,"count":18},{"bin_start":41.5,"count":27},{"bin_start":42.5,"count":23},{"bin_start":43.5,"count":19},{"bin_start":44.5,"count":17},{"bin_start":45.5,"count":12},{"bin_start":46.5,"count":14},{"bin_start":47.5,"count":13},{"bin_start":48.5,"count":13},
      {"bin_start":49.5,"count":12},{"bin_start":50.5,"count":14},{"bin_start":51.5,"count":13},{"bin_start":52.5,"count":10},{"bin_start":53.5,"count":4},{"bin_start":54.5,"count":5},{"bin_start":55.5,"count":7},{"bin_start":56.5,"count":3},{"bin_start":57.5,"count":4},{"bin_start":58.5,"count":4},
      {"bin_start":59.5,"count":3},{"bin_start":60.5,"count":3},{"bin_start":61.5,"count":5},{"bin_start":62.5,"count":1},{"bin_start":63.5,"count":3},{"bin_start":64.5,"count":2},{"bin_start":65.5,"count":1},{"bin_start":66.5,"count":2},{"bin_start":67.5,"count":3},{"bin_start":68.5,"count":3},
      {"bin_start":69.5,"count":3},{"bin_start":70.5,"count":3},{"bin_start":71.5,"count":0},{"bin_start":72.5,"count":1},{"bin_start":73.5,"count":3},{"bin_start":74.5,"count":1},{"bin_start":75.5,"count":0},{"bin_start":76.5,"count":1},{"bin_start":77.5,"count":0},{"bin_start":78.5,"count":1},
      {"bin_start":79.5,"count":0},{"bin_start":80.5,"count":0},{"bin_start":81.5,"count":1},{"bin_start":82.5,"count":2},{"bin_start":83.5,"count":0},{"bin_start":84.5,"count":0},{"bin_start":85.5,"count":0},{"bin_start":86.5,"count":1},{"bin_start":87.5,"count":0},{"bin_start":88.5,"count":1},
      {"bin_start":89.5,"count":1},{"bin_start":90.5,"count":0},{"bin_start":91.5,"count":0},{"bin_start":92.5,"count":0},{"bin_start":93.5,"count":0},{"bin_start":94.5,"count":1},{"bin_start":95.5,"count":0},{"bin_start":96.5,"count":1},{"bin_start":97.5,"count":0},{"bin_start":98.5,"count":1},
      {"bin_start":99.5,"count":1},{"bin_start":100.5,"count":1},{"bin_start":101.5,"count":2},{"bin_start":102.5,"count":0},{"bin_start":103.5,"count":1},{"bin_start":104.5,"count":1},{"bin_start":105.5,"count":0},{"bin_start":106.5,"count":1},{"bin_start":107.5,"count":0},{"bin_start":108.5,"count":1},
      {"bin_start":109.5,"count":1},{"bin_start":110.5,"count":0},{"bin_start":111.5,"count":0},{"bin_start":112.5,"count":1},{"bin_start":113.5,"count":1},{"bin_start":114.5,"count":0},{"bin_start":115.5,"count":1},{"bin_start":116.5,"count":0},{"bin_start":117.5,"count":0},{"bin_start":118.5,"count":0},
      {"bin_start":119.5,"count":0},{"bin_start":120.5,"count":0},{"bin_start":121.5,"count":2},{"bin_start":122.5,"count":0},{"bin_start":123.5,"count":0},{"bin_start":124.5,"count":1},{"bin_start":125.5,"count":0},{"bin_start":126.5,"count":1},{"bin_start":127.5,"count":0},{"bin_start":128.5,"count":0},
      {"bin_start":129.5,"count":0},{"bin_start":130.5,"count":0},{"bin_start":131.5,"count":0},{"bin_start":132.5,"count":0},{"bin_start":133.5,"count":0},{"bin_start":134.5,"count":0},{"bin_start":135.5,"count":0},{"bin_start":136.5,"count":0},{"bin_start":137.5,"count":0},{"bin_start":138.5,"count":0},
      {"bin_start":139.5,"count":0},{"bin_start":140.5,"count":0},{"bin_start":141.5,"count":0},{"bin_start":142.5,"count":0},{"bin_start":143.5,"count":0},{"bin_start":144.5,"count":0},{"bin_start":145.5,"count":0},{"bin_start":146.5,"count":0},{"bin_start":147.5,"count":0},{"bin_start":148.5,"count":0},
      {"bin_start":149.5,"count":0},{"bin_start":150.5,"count":0},{"bin_start":151.5,"count":0},{"bin_start":152.5,"count":1},{"bin_start":153.5,"count":0}
    ],
    "hist180": [
      {"bin_start":-0.5,"count":1},{"bin_start":0.5,"count":0},{"bin_start":1.5,"count":0},{"bin_start":2.5,"count":0},{"bin_start":3.5,"count":0},{"bin_start":4.5,"count":0},{"bin_start":5.5,"count":0},{"bin_start":6.5,"count":0},{"bin_start":7.5,"count":0},{"bin_start":8.5,"count":0},
      {"bin_start":9.5,"count":0},{"bin_start":10.5,"count":0},{"bin_start":11.5,"count":0},{"bin_start":12.5,"count":3},{"bin_start":13.5,"count":29},{"bin_start":14.5,"count":91},{"bin_start":15.5,"count":152},{"bin_start":16.5,"count":144},{"bin_start":17.5,"count":130},{"bin_start":18.5,"count":94},
      {"bin_start":19.5,"count":84},{"bin_start":20.5,"count":78},{"bin_start":21.5,"count":68},{"bin_start":22.5,"count":46},{"bin_start":23.5,"count":59},{"bin_start":24.5,"count":44},{"bin_start":25.5,"count":36},{"bin_start":26.5,"count":43},{"bin_start":27.5,"count":40},{"bin_start":28.5,"count":34},
      {"bin_start":29.5,"count":31},{"bin_start":30.5,"count":26},{"bin_start":31.5,"count":20},{"bin_start":32.5,"count":35},{"bin_start":33.5,"count":18},{"bin_start":34.5,"count":22},{"bin_start":35.5,"count":12},{"bin_start":36.5,"count":20},{"bin_start":37.5,"count":15},{"bin_start":38.5,"count":11},
      {"bin_start":39.5,"count":10},{"bin_start":40.5,"count":17},{"bin_start":41.5,"count":21},{"bin_start":42.5,"count":20},{"bin_start":43.5,"count":18},{"bin_start":44.5,"count":19},{"bin_start":45.5,"count":26},{"bin_start":46.5,"count":22},{"bin_start":47.5,"count":22},{"bin_start":48.5,"count":22},
      {"bin_start":49.5,"count":20},{"bin_start":50.5,"count":32},{"bin_start":51.5,"count":18},{"bin_start":52.5,"count":16},{"bin_start":53.5,"count":24},{"bin_start":54.5,"count":23},{"bin_start":55.5,"count":21},{"bin_start":56.5,"count":15},{"bin_start":57.5,"count":19},{"bin_start":58.5,"count":14},
      {"bin_start":59.5,"count":20},{"bin_start":60.5,"count":13},{"bin_start":61.5,"count":9},{"bin_start":62.5,"count":14},{"bin_start":63.5,"count":7},{"bin_start":64.5,"count":7},{"bin_start":65.5,"count":10},{"bin_start":66.5,"count":9},{"bin_start":67.5,"count":5},{"bin_start":68.5,"count":8},
      {"bin_start":69.5,"count":5},{"bin_start":70.5,"count":8},{"bin_start":71.5,"count":5},{"bin_start":72.5,"count":3},{"bin_start":73.5,"count":5},{"bin_start":74.5,"count":5},{"bin_start":75.5,"count":6},{"bin_start":76.5,"count":2},{"bin_start":77.5,"count":7},{"bin_start":78.5,"count":3},
      {"bin_start":79.5,"count":5},{"bin_start":80.5,"count":3},{"bin_start":81.5,"count":4},{"bin_start":82.5,"count":4},{"bin_start":83.5,"count":1},{"bin_start":84.5,"count":7},{"bin_start":85.5,"count":3},{"bin_start":86.5,"count":5},{"bin_start":87.5,"count":0},{"bin_start":88.5,"count":1},
      {"bin_start":89.5,"count":2},{"bin_start":90.5,"count":2},{"bin_start":91.5,"count":3},{"bin_start":92.5,"count":0},{"bin_start":93.5,"count":2},{"bin_start":94.5,"count":0},{"bin_start":95.5,"count":1},{"bin_start":96.5,"count":1},{"bin_start":97.5,"count":4},{"bin_start":98.5,"count":3},
      {"bin_start":99.5,"count":1},{"bin_start":100.5,"count":2},{"bin_start":101.5,"count":0},{"bin_start":102.5,"count":2},{"bin_start":103.5,"count":1},{"bin_start":104.5,"count":0},{"bin_start":105.5,"count":0},{"bin_start":106.5,"count":1},{"bin_start":107.5,"count":1},{"bin_start":108.5,"count":1},
      {"bin_start":109.5,"count":1},{"bin_start":110.5,"count":1},{"bin_start":111.5,"count":1},{"bin_start":112.5,"count":1},{"bin_start":113.5,"count":1},{"bin_start":114.5,"count":0},{"bin_start":115.5,"count":0},{"bin_start":116.5,"count":0},{"bin_start":117.5,"count":0},{"bin_start":118.5,"count":0},
      {"bin_start":119.5,"count":0},{"bin_start":120.5,"count":0},{"bin_start":121.5,"count":0},{"bin_start":122.5,"count":0},{"bin_start":123.5,"count":0},{"bin_start":124.5,"count":0},{"bin_start":125.5,"count":0},{"bin_start":126.5,"count":0},{"bin_start":127.5,"count":0},{"bin_start":128.5,"count":0},
      {"bin_start":129.5,"count":0},{"bin_start":130.5,"count":0},{"bin_start":131.5,"count":0},{"bin_start":132.5,"count":0},{"bin_start":133.5,"count":0},{"bin_start":134.5,"count":0},{"bin_start":135.5,"count":1},{"bin_start":136.5,"count":0},{"bin_start":137.5,"count":0},{"bin_start":138.5,"count":0},
      {"bin_start":139.5,"count":0},{"bin_start":140.5,"count":0},{"bin_start":141.5,"count":0},{"bin_start":142.5,"count":0},{"bin_start":143.5,"count":0},{"bin_start":144.5,"count":0},{"bin_start":145.5,"count":0},{"bin_start":146.5,"count":0},{"bin_start":147.5,"count":0},{"bin_start":148.5,"count":0},
      {"bin_start":149.5,"count":0},{"bin_start":150.5,"count":0},{"bin_start":151.5,"count":0},{"bin_start":152.5,"count":0},{"bin_start":153.5,"count":0}
    ]
  },
  "columns": 2,
  "spacing": {"row": 301, "column": 662},
  "bounds": "flush",
  "concat": [
    {
      "width": 1261, "height": 1263,
      "title": {"text": "jaxipm — 90° sector"},
      "encoding": {
        "x": {"field": "x", "type": "quantitative", "scale": {"domain": [-0.3, 5.95], "nice": false, "zero": false},
              "axis": {"values": [0, 2, 4], "format": "d", "title": "X", "labelPadding": 9, "titlePadding": 17}},
        "y": {"field": "y", "type": "quantitative", "scale": {"domain": [-0.28, 5.97], "nice": false, "zero": false},
              "axis": {"values": [0, 2, 4], "format": "d", "title": "Y", "labelPadding": 14, "titlePadding": 23}}
      },
      "layer": [
        {"data": {"name": "obstacles"},
         "mark": {"type": "arc", "fill": "#ff0000", "fillOpacity": 0.26, "stroke": "#ff0000", "strokeOpacity": 0.32, "strokeWidth": 3, "opacity": 1},
         "encoding": {"theta": {"value": 0}, "theta2": {"value": 6.2832},
                      "radius": {"field": "r", "type": "quantitative", "stack": false, "scale": {"type": "linear", "domain": [0, 1], "range": [0, 201.9], "zero": true}}}},
        {"data": {"name": "traj90"},
         "mark": {"type": "line", "color": "#2ca02c", "opacity": 0.35, "strokeWidth": 3},
         "encoding": {"detail": {"field": "id", "type": "nominal"}, "order": {"field": "step", "type": "quantitative"}}},
        {"data": {"name": "streams90"},
         "mark": {"type": "line", "color": "#2ca02c", "interpolate": "catmull-rom"},
         "encoding": {"detail": {"field": "id", "type": "nominal"}, "order": {"field": "step", "type": "quantitative"},
                      "opacity": {"field": "n", "type": "quantitative", "scale": {"domain": [1, 6], "range": [0.35, 0.9], "clamp": true}, "legend": null},
                      "strokeWidth": {"field": "n", "type": "quantitative", "scale": {"domain": [1, 24], "range": [3, 6.5], "clamp": true}, "legend": null}}},
        {"data": {"name": "arrows90"},
         "mark": {"type": "point", "shape": "triangle-up", "filled": true, "color": "#2ca02c", "opacity": 0.4, "size": 950},
         "encoding": {"angle": {"field": "heading", "type": "quantitative", "scale": null}}},
        {"data": {"name": "traj90"},
         "transform": [{"filter": "datum.step === 0"}],
         "mark": {"type": "point", "filled": true, "opacity": 0.75},
         "encoding": {
           "shape": {"datum": "starts", "type": "nominal", "scale": {"domain": ["starts", "goal"], "range": ["circle", "M-1,-1L1,1M-1,1L1,-1"]},
                     "legend": {"title": null, "orient": "top-right", "offset": 19}},
           "fill": {"datum": "starts", "type": "nominal", "scale": {"domain": ["starts", "goal"], "range": ["#a6a6a6", "transparent"]},
                    "legend": {"title": null, "orient": "top-right", "offset": 19}},
           "stroke": {"datum": "starts", "type": "nominal", "scale": {"domain": ["starts", "goal"], "range": ["transparent", "#000000"]},
                      "legend": {"title": null, "orient": "top-right", "offset": 19}},
           "size": {"datum": "starts", "type": "nominal", "scale": {"type": "point", "padding": 0, "domain": ["starts", "goal"], "range": [80, 2200]},
                    "legend": {"title": null, "orient": "top-right", "offset": 19}}
         }},
        {"data": {"name": "goal"},
         "mark": {"type": "point", "filled": true, "opacity": 1, "strokeWidth": 3},
         "encoding": {
           "shape": {"datum": "goal", "type": "nominal"},
           "fill": {"datum": "goal", "type": "nominal"},
           "stroke": {"datum": "goal", "type": "nominal"},
           "size": {"datum": "goal", "type": "nominal"}
         }}
      ]
    },
    {
      "width": 1276, "height": 1263,
      "title": {"text": "jaxipm — 180° sector", "dy": 28},
      "encoding": {
        "x": {"field": "x", "type": "quantitative", "scale": {"domain": [-4.45, 6.18], "nice": false, "zero": false},
              "axis": {"values": [0, 5], "format": "d", "title": "X", "labelPadding": 9, "titlePadding": 17}},
        "y": {"field": "y", "type": "quantitative", "scale": {"domain": [-4.36, 6.17], "nice": false, "zero": false},
              "axis": {"values": [-4, -2, 0, 2, 4, 6], "format": "d", "title": "Y", "labelPadding": 14, "titlePadding": 25}}
      },
      "layer": [
        {"data": {"name": "obstacles"},
         "mark": {"type": "arc", "fill": "#ff0000", "fillOpacity": 0.26, "stroke": "#ff0000", "strokeOpacity": 0.32, "strokeWidth": 3, "opacity": 1},
         "encoding": {"theta": {"value": 0}, "theta2": {"value": 6.2832},
                      "radius": {"field": "r", "type": "quantitative", "stack": false, "scale": {"type": "linear", "domain": [0, 1], "range": [0, 120], "zero": true}}}},
        {"data": {"name": "traj180"},
         "mark": {"type": "line", "color": "#2ca02c", "opacity": 0.35, "strokeWidth": 3},
         "encoding": {"detail": {"field": "id", "type": "nominal"}, "order": {"field": "step", "type": "quantitative"}}},
        {"data": {"name": "streams180"},
         "mark": {"type": "line", "color": "#2ca02c", "interpolate": "catmull-rom"},
         "encoding": {"detail": {"field": "id", "type": "nominal"}, "order": {"field": "step", "type": "quantitative"},
                      "opacity": {"field": "n", "type": "quantitative", "scale": {"domain": [1, 6], "range": [0.35, 0.9], "clamp": true}, "legend": null},
                      "strokeWidth": {"field": "n", "type": "quantitative", "scale": {"domain": [1, 24], "range": [3, 6.5], "clamp": true}, "legend": null}}},
        {"data": {"name": "arrows180"},
         "mark": {"type": "point", "shape": "triangle-up", "filled": true, "color": "#2ca02c", "opacity": 0.4, "size": 950},
         "encoding": {"angle": {"field": "heading", "type": "quantitative", "scale": null}}},
        {"data": {"name": "traj180"},
         "transform": [{"filter": "datum.step === 0"}],
         "mark": {"type": "point", "filled": true, "opacity": 0.75},
         "encoding": {
           "shape": {"datum": "starts", "type": "nominal", "scale": {"domain": ["starts", "goal"], "range": ["circle", "M-1,-1L1,1M-1,1L1,-1"]},
                     "legend": {"title": null, "orient": "top-right", "offset": 19}},
           "fill": {"datum": "starts", "type": "nominal", "scale": {"domain": ["starts", "goal"], "range": ["#a6a6a6", "transparent"]},
                    "legend": {"title": null, "orient": "top-right", "offset": 19}},
           "stroke": {"datum": "starts", "type": "nominal", "scale": {"domain": ["starts", "goal"], "range": ["transparent", "#000000"]},
                      "legend": {"title": null, "orient": "top-right", "offset": 19}},
           "size": {"datum": "starts", "type": "nominal", "scale": {"type": "point", "padding": 0, "domain": ["starts", "goal"], "range": [80, 2200]},
                    "legend": {"title": null, "orient": "top-right", "offset": 19}}
         }},
        {"data": {"name": "goal"},
         "mark": {"type": "point", "filled": true, "opacity": 1, "strokeWidth": 3},
         "encoding": {
           "shape": {"datum": "goal", "type": "nominal"},
           "fill": {"datum": "goal", "type": "nominal"},
           "stroke": {"datum": "goal", "type": "nominal"},
           "size": {"datum": "goal", "type": "nominal"}
         }}
      ]
    },
    {
      "width": 1261, "height": 1270,
      "data": {"name": "hist90"},
      "encoding": {
        "x": {"field": "bin_start", "type": "quantitative", "scale": {"domain": [-0.5, 153.5], "nice": false, "zero": false},
              "axis": {"values": [0, 40, 80, 120], "format": "d", "title": "IPM iterations", "labelPadding": 6, "titlePadding": 13}},
        "y": {"field": "count", "type": "quantitative", "scale": {"domain": [0, 160], "nice": false},
              "axis": {"values": [0, 50, 100, 150], "format": "d", "title": "count", "labelPadding": 14, "titlePadding": 18}}
      },
      "layer": [
        {"mark": {"type": "area", "interpolate": "step-after", "color": "#1f77b4", "opacity": 0.55}},
        {"mark": {"type": "line", "interpolate": "step-after", "color": "#1f77b4", "opacity": 0.7, "strokeWidth": 4.5}}
      ]
    },
    {
      "width": 1276, "height": 1270,
      "data": {"name": "hist180"},
      "encoding": {
        "x": {"field": "bin_start", "type": "quantitative", "scale": {"domain": [-0.5, 153.5], "nice": false, "zero": false},
              "axis": {"values": [0, 40, 80, 120], "format": "d", "title": "IPM iterations", "labelPadding": 6, "titlePadding": 13}},
        "y": {"field": "count", "type": "quantitative", "scale": {"domain": [0, 160], "nice": false},
              "axis": {"values": [0, 50, 100, 150], "format": "d", "title": "count", "labelPadding": 14, "titlePadding": 18}}
      },
      "layer": [
        {"mark": {"type": "area", "interpolate": "step-after", "color": "#d62728", "opacity": 0.55}},
        {"mark": {"type": "line", "interpolate": "step-after", "color": "#d62728", "opacity": 0.7, "strokeWidth": 4.5}}
      ]
    }
  ]
}
